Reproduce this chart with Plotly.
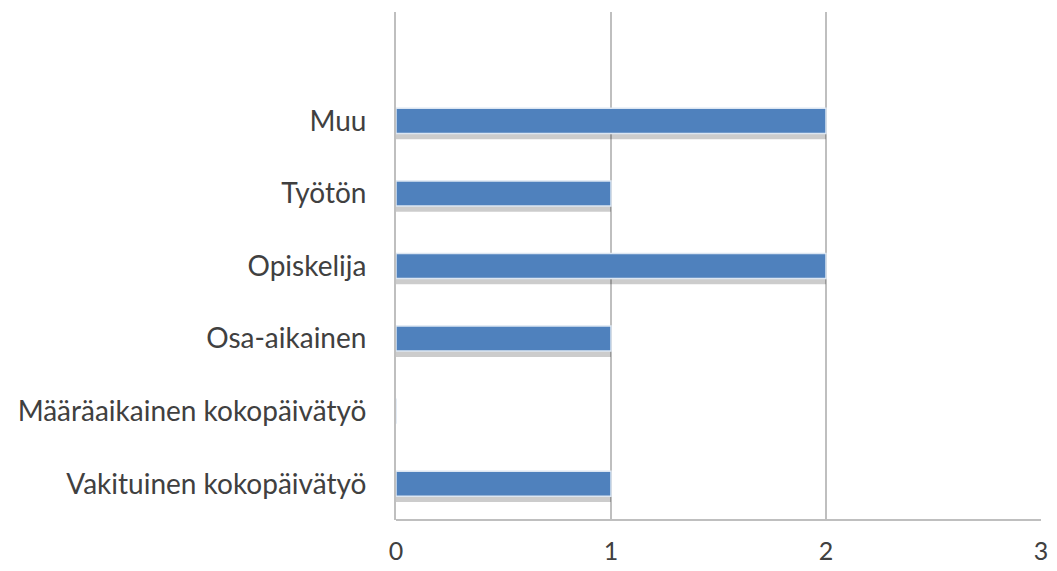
import plotly.graph_objects as go

categories = [
    "Vakituinen kokopäivätyö",
    "Määräaikainen kokopäivätyö",
    "Osa-aikainen",
    "Opiskelija",
    "Työtön",
    "Muu",
]
counts = [1, 0, 1, 2, 1, 2]
x_ticks = [0, 1, 2, 3]

BAR_W = 0.345
FONT = "Lato"
TEXT = "#404040"

fig = go.Figure()

# soft drop shadow under each bar
fig.add_trace(go.Bar(
    y=categories, x=counts, orientation="h",
    width=BAR_W, offset=-BAR_W / 2 - 0.08,
    marker=dict(color="rgba(0,0,0,0.2)", line=dict(width=0)),
    hoverinfo="skip", showlegend=False,
))
# main bars
fig.add_trace(go.Bar(
    y=categories, x=counts, orientation="h",
    width=BAR_W, offset=-BAR_W / 2,
    marker=dict(color="#4F81BD", line=dict(color="#DCE6F2", width=1.5)),
    showlegend=False,
))

fig.update_layout(
    width=1057, height=571,
    margin=dict(l=396, r=16, t=12, b=51),
    paper_bgcolor="white", plot_bgcolor="white",
    barmode="overlay",
    font=dict(family=FONT, color=TEXT, size=28),
    xaxis=dict(
        range=[0, 3], tickvals=x_ticks, ticktext=[str(v) for v in x_ticks],
        showgrid=True, gridcolor="#BFBFBF", gridwidth=2,
        zeroline=False, showline=False, ticks="",
        ticklabelstandoff=14, automargin=False,
        tickfont=dict(size=25, color=TEXT),
    ),
    yaxis=dict(
        type="category", categoryorder="array", categoryarray=categories,
        range=[-0.5, 6.5], automargin=False,
        showgrid=False, zeroline=False,
        showline=True, linecolor="#BFBFBF", linewidth=2,
        ticks="", ticklabelstandoff=22,
        tickfont=dict(size=28, color=TEXT),
    ),
    shapes=[dict(type="line", xref="paper", yref="paper", x0=0, x1=1, y0=0, y1=0,
                 line=dict(color="#BFBFBF", width=2))],
)

fig.write_html("out.html")
